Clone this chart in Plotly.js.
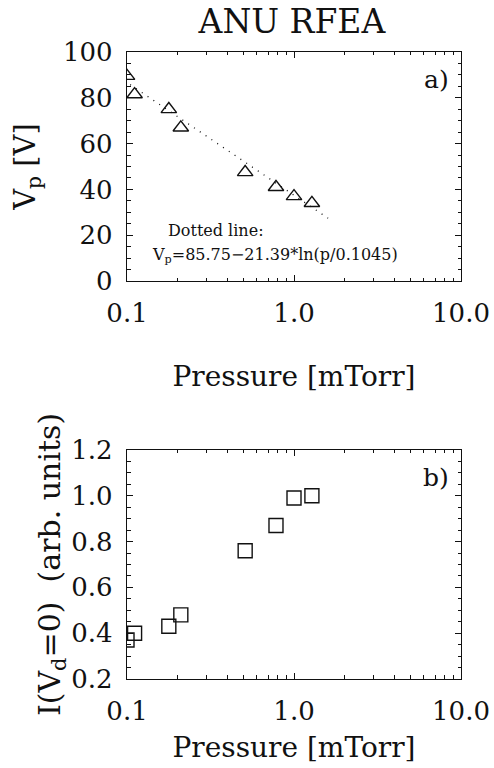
<!DOCTYPE html>
<html>
<head>
<meta charset="utf-8">
<script src="https://cdn.plot.ly/plotly-3.0.1.min.js"></script>
<style>html,body{margin:0;padding:0;background:#fff;}#chart{width:494px;height:768px;}</style>
</head>
<body>
<div id="chart"></div>
<script>
// ---- data ----
const pressure = [0.1, 0.111, 0.178, 0.21, 0.51, 0.78, 1.0, 1.28];          // mTorr
const plasmaPotential = [89.5, 81.5, 75, 67, 47.5, 41, 37, 34];             // V_p [V]
const currentVd0 = [0.37, 0.40, 0.43, 0.48, 0.76, 0.87, 0.99, 1.0];         // I(V_d=0) arb. units
const fitPressure = [0.1045, 1.6];                                           // dotted fit line end points
const fitPotential = [85.75, 27.4];
const xTickVals = [0.1, 1, 10];
const xTickText = ['0.1', '1.0', '10.0'];
const xMinorVals = [0.2,0.3,0.4,0.5,0.6,0.7,0.8,0.9,2,3,4,5,6,7,8,9];

const serif = 'DejaVu Serif, Liberation Serif, serif';
const black = '#111';

const traces = [
  {x: fitPressure, y: fitPotential, xaxis: 'x', yaxis: 'y', mode: 'lines',
   line: {color: black, width: 1.3, dash: '1px,6px'}, hoverinfo: 'skip', showlegend: false},
  {x: pressure, y: plasmaPotential, xaxis: 'x', yaxis: 'y', mode: 'markers',
   marker: {symbol: 'triangle-up-open', size: 13.5, color: black, line: {width: 1.4, color: black}}, showlegend: false},
  {x: pressure, y: currentVd0, xaxis: 'x2', yaxis: 'y2', mode: 'markers',
   marker: {symbol: 'square-open', size: 14, color: black, line: {width: 1.4, color: black}}, showlegend: false}
];

function xAxis(anchor, standoff) {
  return {
    type: 'log', range: [-1, 1], domain: [0.2571, 0.9332], anchor: anchor,
    tickmode: 'array', tickvals: xTickVals, ticktext: xTickText,
    ticks: 'inside', ticklen: 6, tickwidth: 1, tickcolor: black,
    minor: {tickmode: 'array', tickvals: xMinorVals, ticks: 'inside', ticklen: 3.5, tickcolor: black, showgrid: false},
    showline: true, linecolor: black, linewidth: 1.2, mirror: 'allticks',
    showgrid: false, zeroline: false, ticklabelstandoff: 9,
    tickfont: {family: serif, size: 26, color: black},
    title: {text: 'Pressure [mTorr]', font: {family: serif, size: 28, color: black}, standoff: standoff}
  };
}
function yAxis(anchor, domain, range, dtick, minorDtick, fmt, title, titleSize, standoff) {
  return {
    range: range, domain: domain, anchor: anchor, dtick: dtick, tick0: 0, tickformat: fmt,
    ticks: 'inside', ticklen: 6, tickwidth: 1, tickcolor: black,
    minor: {dtick: minorDtick, ticks: 'inside', ticklen: 3.5, tickcolor: black, showgrid: false},
    showline: true, linecolor: black, linewidth: 1.2, mirror: 'allticks',
    showgrid: false, zeroline: false, ticklabelstandoff: 8,
    tickfont: {family: serif, size: 26, color: black},
    title: {text: title, font: {family: serif, size: titleSize, color: black}, standoff: standoff}
  };
}

const layout = {
  width: 494, height: 768,
  margin: {l: 0, r: 0, t: 0, b: 0},
  paper_bgcolor: '#fff', plot_bgcolor: '#fff',
  showlegend: false,
  title: {text: 'ANU RFEA', font: {family: serif, size: 33, color: black},
          x: 0.591, xanchor: 'center', y: 0.972, yanchor: 'middle', xref: 'paper', yref: 'paper'},
  xaxis: xAxis('y', 39),
  yaxis: yAxis('x', [0.6341, 0.9323], [0, 100], 20, 5, 'd', 'V<sub>p</sub> [V]', 29, 18),
  xaxis2: xAxis('y2', 12),
  yaxis2: yAxis('x2', [0.1159, 0.4141], [0.2, 1.2], 0.2, 0.05, '.1f', 'I(V<sub>d</sub>=0)\u00a0\u00a0(arb. units)', 30, 1),
  annotations: [
    {text: 'a)', xref: 'paper', yref: 'paper', x: 436/494, y: 1 - 80/768, xanchor: 'center', yanchor: 'middle',
     showarrow: false, font: {family: serif, size: 25, color: black}},
    {text: 'b)', xref: 'paper', yref: 'paper', x: 436/494, y: 1 - 477/768, xanchor: 'center', yanchor: 'middle',
     showarrow: false, font: {family: serif, size: 25, color: black}},
    {text: 'Dotted line:', xref: 'paper', yref: 'paper', x: 216/494, y: 1 - 230/768, xanchor: 'center', yanchor: 'middle',
     showarrow: false, font: {family: serif, size: 16, color: black}},
    {text: 'V<sub>p</sub>=85.75\u221221.39*ln(p/0.1045)', xref: 'paper', yref: 'paper', x: 275/494, y: 1 - 255/768,
     xanchor: 'center', yanchor: 'middle', showarrow: false, font: {family: serif, size: 16, color: black}}
  ]
};

Plotly.newPlot('chart', traces, layout, {displayModeBar: false, staticPlot: true});
</script>
</body>
</html>
